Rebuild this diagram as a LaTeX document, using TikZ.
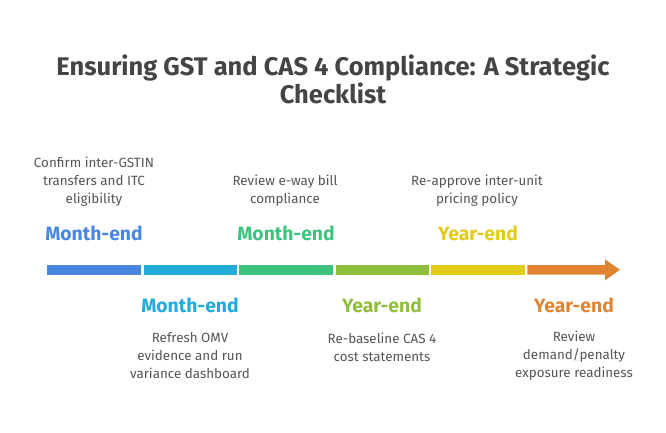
\documentclass[tikz,border=0pt]{standalone}
\usepackage{fontspec}
\setmainfont{Fira Sans}
\usetikzlibrary{arrows.meta}
\definecolor{titlegray}{HTML}{444444}
\definecolor{textgray}{HTML}{555555}
\definecolor{cblue}{HTML}{4A86E0}
\definecolor{ccyan}{HTML}{22AADB}
\definecolor{cgreen}{HTML}{3CC47F}
\definecolor{colive}{HTML}{8FBE3A}
\definecolor{cyellow}{HTML}{E2CB19}
\definecolor{corange}{HTML}{E08432}
\tikzset{
  every node/.style={inner sep=0pt, align=center},
  task/.style={text=textgray, font=\fontsize{13.4}{18}\selectfont},
  when/.style={font=\fontsize{19.3}{20}\selectfont\bfseries},
}

\begin{document}
\begin{tikzpicture}[x=1pt, y=-1pt]
\useasboundingbox (0,0) rectangle (666,432);
% Title
    \node[text=titlegray, font=\fontsize{25.5}{28}\selectfont\bfseries] (title) at (333,79)
        {Ensuring GST and CAS 4 Compliance: A Strategic\\Checklist};
% Bar
    \fill[cblue]   (47,265) rectangle (141.3,274.7);
    \fill[ccyan]   (143.7,265) rectangle (237,274.7);
    \fill[cgreen]  (239.3,265) rectangle (333.3,274.7);
    \fill[colive]  (335.7,265) rectangle (429,274.7);
    \fill[cyellow] (431.3,265) rectangle (525,274.7);
    \fill[corange] (527.3,265) -- (605,265) -- (605,259.3) -- (620,269.8)
        -- (605,280.3) -- (605,274.7) -- (527.3,274.7) -- cycle;
% Above the bar
    \node[when, text=cblue] (m1) at (94,233) {Month-end};
    \node[task] (t1) at (94,182) {Confirm inter-GSTIN\\transfers and ITC\\eligibility};
    \node[when, text=cgreen] (m3) at (286,233) {Month-end};
    \node[task] (t3) at (285,191) {Review e-way bill\\compliance};
    \node[when, text=cyellow] (y5) at (478,233) {Year-end};
    \node[task] (t5) at (477,191) {Re-approve inter-unit\\pricing policy};
% Below the bar
    \node[when, text=ccyan] (m2) at (190,305) {Month-end};
    \node[task] (t2) at (190,356) {Refresh OMV\\evidence and run\\variance dashboard};
    \node[when, text=colive] (y4) at (382,305) {Year-end};
    \node[task] (t4) at (382,347) {Re-baseline CAS 4\\cost statements};
    \node[when, text=corange] (y6) at (574,305) {Year-end};
    \node[task] (t6) at (574,356) {Review\\demand/penalty\\exposure readiness};
\end{tikzpicture}
\end{document}
